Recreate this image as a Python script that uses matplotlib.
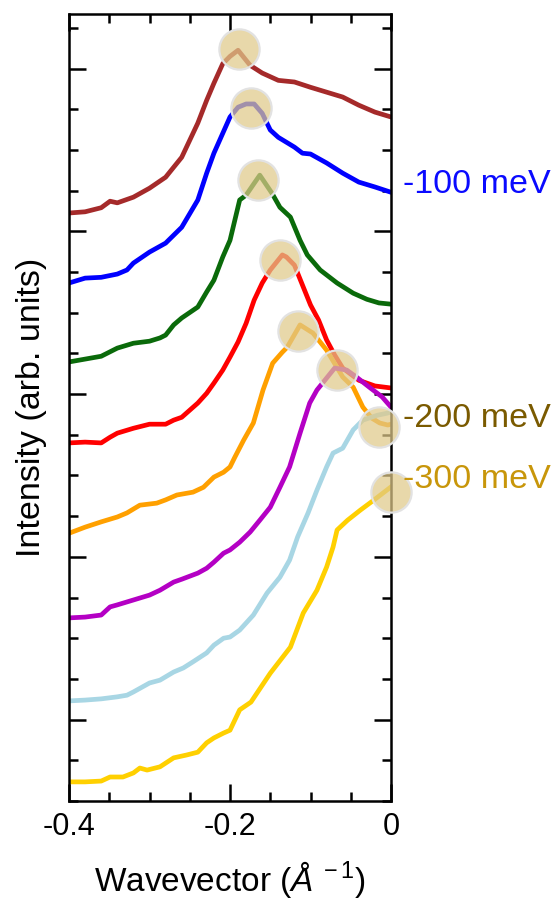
import matplotlib
matplotlib.use('Agg')
import matplotlib.pyplot as plt
from matplotlib.ticker import FixedLocator, FixedFormatter

plt.rcParams['font.family'] = ['Liberation Sans', 'DejaVu Sans']
plt.rcParams['axes.unicode_minus'] = False
plt.rcParams['mathtext.fontset'] = 'custom'
plt.rcParams['mathtext.rm'] = 'Liberation Sans'
plt.rcParams['mathtext.it'] = 'Liberation Sans:italic'

# MDC curves, top to bottom (offset intensity, arb. units)
brown_x = [-0.400, -0.380, -0.360, -0.349, -0.340, -0.320, -0.300, -0.280, -0.260, -0.240, -0.229, -0.220,
           -0.209, -0.200, -0.190, -0.175, -0.160, -0.140, -0.120, -0.100, -0.080, -0.060, -0.040, -0.020, 0.000]
brown_y = [14.45, 14.48, 14.58, 14.74, 14.70, 14.84, 15.06, 15.33, 15.82, 16.66, 17.22, 17.64,
           18.12, 18.30, 18.45, 18.08, 17.89, 17.71, 17.67, 17.54, 17.42, 17.30, 17.10, 16.93, 16.81]

blue_x = [-0.400, -0.380, -0.360, -0.340, -0.328, -0.320, -0.300, -0.280, -0.260, -0.240, -0.229, -0.220,
          -0.209, -0.200, -0.190, -0.180, -0.170, -0.160, -0.150, -0.140, -0.120, -0.110, -0.100, -0.080,
          -0.060, -0.040, -0.020, 0.000]
blue_y = [12.73, 12.85, 12.87, 12.95, 13.05, 13.22, 13.49, 13.71, 14.10, 14.77, 15.43, 15.92,
          16.41, 16.81, 17.05, 17.13, 17.13, 16.90, 16.49, 16.31, 16.07, 15.92, 15.90, 15.68,
          15.43, 15.21, 15.09, 14.96]

green_x = [-0.400, -0.380, -0.360, -0.340, -0.320, -0.300, -0.287, -0.280, -0.270, -0.260, -0.240, -0.229,
           -0.220, -0.209, -0.200, -0.188, -0.180, -0.170, -0.163, -0.148, -0.138, -0.125, -0.113, -0.104,
           -0.088, -0.067, -0.047, -0.030, -0.015, 0.000]
green_y = [10.79, 10.86, 10.93, 11.13, 11.25, 11.30, 11.38, 11.45, 11.70, 11.87, 12.14, 12.51,
           12.80, 13.37, 13.78, 14.77, 14.89, 15.18, 15.38, 14.94, 14.59, 14.35, 13.78, 13.42,
           13.05, 12.73, 12.48, 12.33, 12.24, 12.21]

red_x = [-0.400, -0.380, -0.360, -0.349, -0.340, -0.320, -0.300, -0.280, -0.270, -0.260, -0.240, -0.229,
         -0.220, -0.209, -0.200, -0.190, -0.180, -0.170, -0.160, -0.150, -0.135, -0.130, -0.120, -0.110,
         -0.100, -0.090, -0.080, -0.070, -0.060, -0.040, -0.020, 0.000]
red_y = [8.80, 8.82, 8.80, 8.94, 9.04, 9.16, 9.26, 9.26, 9.36, 9.43, 9.78, 10.02,
         10.27, 10.59, 10.91, 11.28, 11.74, 12.31, 12.73, 13.05, 13.42, 13.37, 13.17, 12.68,
         12.19, 11.82, 11.33, 10.96, 10.64, 10.34, 10.20, 10.15]

orange_x = [-0.400, -0.380, -0.360, -0.340, -0.328, -0.312, -0.291, -0.280, -0.266, -0.246, -0.233, -0.220,
            -0.208, -0.200, -0.194, -0.183, -0.171, -0.159, -0.147, -0.135, -0.129, -0.113, -0.097, -0.080,
            -0.060, -0.047, -0.035, -0.024, -0.014, -0.004, 0.000]
orange_y = [6.58, 6.73, 6.86, 6.98, 7.08, 7.27, 7.32, 7.40, 7.52, 7.59, 7.71, 7.96,
            8.08, 8.21, 8.45, 8.87, 9.29, 10.10, 10.76, 11.03, 11.15, 11.70, 11.50, 11.08,
            10.42, 10.17, 9.68, 9.41, 9.29, 9.24, 9.26]

magenta_x = [-0.400, -0.380, -0.360, -0.349, -0.340, -0.320, -0.300, -0.287, -0.270, -0.260, -0.240, -0.229,
             -0.220, -0.208, -0.200, -0.188, -0.175, -0.163, -0.150, -0.138, -0.126, -0.113, -0.101, -0.092,
             -0.070, -0.055, -0.043, -0.027, -0.011, 0.000]
magenta_y = [4.50, 4.52, 4.57, 4.77, 4.82, 4.94, 5.06, 5.18, 5.38, 5.45, 5.60, 5.72,
             5.87, 6.09, 6.17, 6.36, 6.61, 6.90, 7.22, 7.71, 8.21, 9.04, 9.78, 10.10,
             10.64, 10.59, 10.42, 10.17, 9.93, 9.68]

lblue_x = [-0.400, -0.380, -0.360, -0.340, -0.328, -0.320, -0.300, -0.287, -0.270, -0.258, -0.246, -0.229,
           -0.220, -0.208, -0.200, -0.188, -0.171, -0.154, -0.138, -0.126, -0.116, -0.103, -0.092, -0.080,
           -0.072, -0.060, -0.047, -0.035, -0.017, -0.005, 0.000]
lblue_y = [2.46, 2.48, 2.51, 2.56, 2.60, 2.68, 2.90, 2.97, 3.17, 3.27, 3.42, 3.64,
           3.83, 4.00, 4.03, 4.20, 4.57, 5.11, 5.50, 5.92, 6.49, 7.08, 7.64, 8.21,
           8.55, 8.67, 9.12, 9.36, 9.48, 9.53, 9.56]

gold_x = [-0.400, -0.380, -0.360, -0.349, -0.333, -0.320, -0.312, -0.303, -0.287, -0.270, -0.254, -0.240,
          -0.229, -0.220, -0.208, -0.200, -0.188, -0.174, -0.150, -0.125, -0.109, -0.092, -0.080, -0.072,
          -0.067, -0.054, -0.038, -0.021, 0.000]
gold_y = [0.47, 0.47, 0.49, 0.59, 0.59, 0.69, 0.81, 0.76, 0.84, 1.06, 1.13, 1.20,
          1.43, 1.55, 1.67, 1.74, 2.24, 2.43, 3.14, 3.78, 4.62, 5.18, 5.75, 6.24,
          6.66, 6.90, 7.15, 7.40, 7.72]

curve_colors = ['#a52a2a', '#0000ff', '#0a6a0a', '#ff0000', '#ffa000', '#b400c4', '#a8d6e4', '#ffd000']

# peak positions (circles)
peak_x = [-0.189, -0.174, -0.165, -0.138, -0.116, -0.067, -0.015, 0.0]
peak_y = [18.48, 17.03, 15.26, 13.29, 11.55, 10.59, 9.19, 7.59]

# energy labels on the right
label_text = ['-100 meV', '-200 meV', '-300 meV']
label_y = [15.16, 9.41, 7.89]
label_colors = ['#0a0aff', '#7a5a00', '#c8960a']

fig = plt.figure(figsize=(5.57, 9.0), dpi=100)
ax = fig.add_axes([0.1239, 0.11, 0.5781, 0.8744])

curves = [(brown_x, brown_y), (blue_x, blue_y), (green_x, green_y), (red_x, red_y),
          (orange_x, orange_y), (magenta_x, magenta_y), (lblue_x, lblue_y), (gold_x, gold_y)]
for (xs, ys), c in zip(curves, curve_colors):
    ax.plot(xs, ys, color=c, lw=3.4, solid_joinstyle='round', zorder=2)

ax.plot(peak_x, peak_y, 'o', ls='none', markersize=29,
        markerfacecolor=(0.88, 0.79, 0.54, 0.72), markeredgecolor='#e2e2e2',
        markeredgewidth=1.6, zorder=3, clip_on=False)

for t, y, c in zip(label_text, label_y, label_colors):
    ax.text(0.015, y, t, color=c, fontsize=24.5, ha='left', va='center', clip_on=False)

ax.set_xlim(-0.4, 0)
ax.set_ylim(0, 19.34)

ax.xaxis.set_major_locator(FixedLocator([-0.4, -0.2, 0.0]))
ax.xaxis.set_major_formatter(FixedFormatter(['-0.4', '-0.2', '0']))
ax.xaxis.set_minor_locator(FixedLocator([-0.35, -0.3, -0.25, -0.15, -0.1, -0.05]))
ax.yaxis.set_major_locator(FixedLocator([2, 6, 10, 14, 18]))
ax.yaxis.set_minor_locator(FixedLocator([0, 1, 3, 4, 5, 7, 8, 9, 11, 12, 13, 15, 16, 17, 19]))
ax.set_yticklabels([])

ax.tick_params(which='both', direction='in', top=True, right=True, width=1.8, colors='black')
ax.tick_params(which='major', length=12)
ax.tick_params(which='minor', length=6.5)
ax.tick_params(axis='x', which='major', labelsize=22, pad=8)
for s in ax.spines.values():
    s.set_linewidth(1.8)

ax.set_xlabel('Wavevector ($\\mathit{Å}^{\\,-1}$)', fontsize=24, labelpad=12)
ax.set_ylabel('Intensity (arb. units)', fontsize=24.5, labelpad=12)

fig.savefig('out.png', dpi=100)
